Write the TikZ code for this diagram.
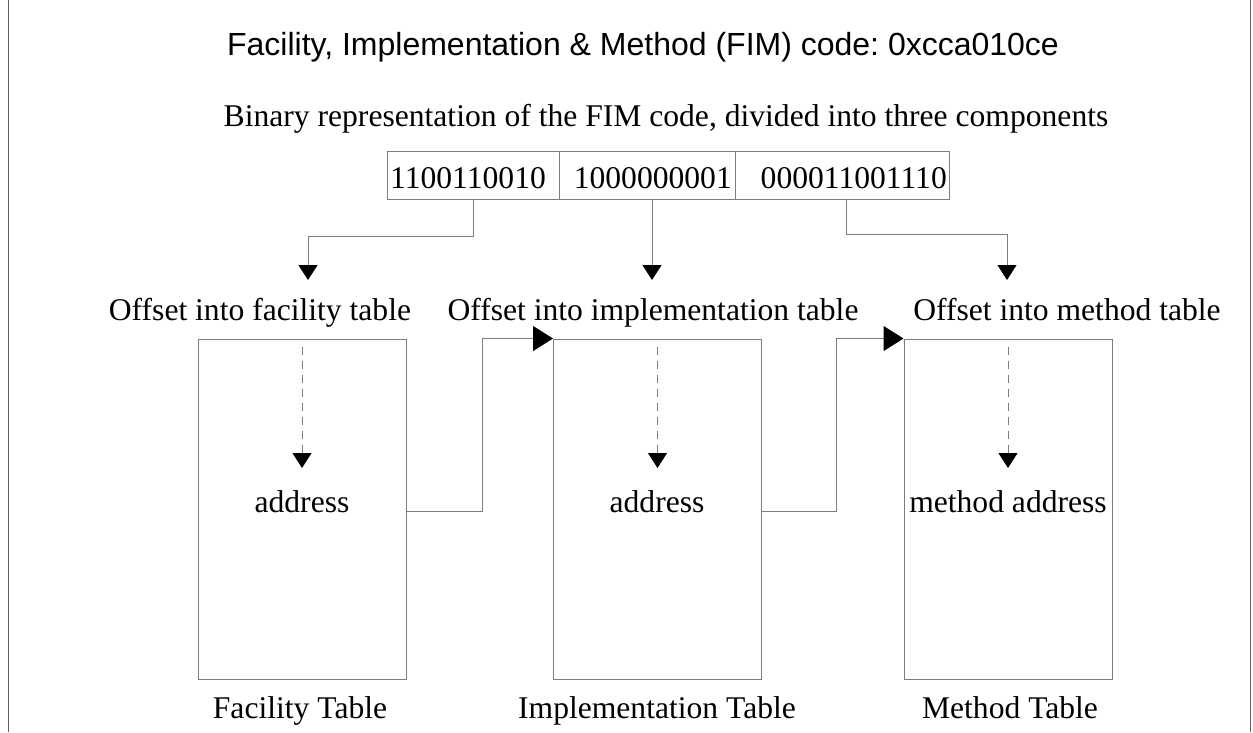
\documentclass[tikz,border=0pt]{standalone}
\usepackage{fontspec}
\setmainfont{Liberation Serif}
\newfontfamily\titlefont{Liberation Sans}
\usetikzlibrary{arrows.meta}
\definecolor{linegray}{RGB}{125,125,125}
\definecolor{framegray}{RGB}{95,95,95}
\frenchspacing
\begin{document}
\frenchspacing
\begin{tikzpicture}[x=1pt,y=-1pt,
  lbl/.style={font=\fontsize{31.6}{36}\selectfont, inner sep=0pt},
  cell/.style={draw=linegray, line width=1pt, inner sep=0pt, minimum height=48pt},
  tbl/.style={draw=linegray, line width=1pt, inner sep=0pt, minimum width=208pt, minimum height=340pt},
  arr/.style={draw=linegray, line width=1pt, -{Triangle[length=15pt,width=19pt,color=black]}},
  darr/.style={draw=linegray, line width=1pt, dash pattern=on 8pt off 6pt, -{Triangle[length=15pt,width=19pt,color=black]}},
  bigarr/.style={draw=linegray, line width=1pt, -{Triangle[length=20pt,width=25pt,color=black]}},
  frame/.style={draw=framegray, line width=1pt}]
\useasboundingbox (0,0) rectangle (1253,732);
\draw[frame] (8,0) -- (8,732);
\draw[frame] (1250,0) -- (1250,732);

\node[anchor=base, inner sep=0pt, font=\titlefont\fontsize{32}{38}\selectfont] (title) at (643,55) {Facility, Implementation \& Method (FIM) code: 0xcca010ce};
\node[lbl, anchor=base] (binlbl) at (666,126) {Binary representation of the FIM code, divided into three components};

\node[cell, minimum width=172pt] (b1) at (473,175) {};
\node[cell, minimum width=176pt] (b2) at (647,175) {};
\node[cell, minimum width=214pt] (b3) at (842,175) {};
\node[lbl, anchor=base west] (d1) at (390,188) {1100110010};
\node[lbl, anchor=base east] (d2) at (732,188) {1000000001};
\node[lbl, anchor=base east] (d3) at (947,188) {000011001110};

\node[lbl, anchor=base] (of) at (260,320) {Offset into facility table};
\node[lbl, anchor=base] (oi) at (653,320) {Offset into implementation table};
\node[lbl, anchor=base] (om) at (1067,320) {Offset into method table};

\coordinate (t1) at (308,280);
\coordinate (t2) at (652,280);
\coordinate (t3) at (1007,280);
\draw[arr] (b1.south) -- (b1.south |- 0,236) -| (t1);
\draw[arr] (t2 |- b2.south) -- (t2);
\draw[arr] ([xshift=4pt]b3.south) -- ([xshift=4pt]b3.south |- 0,234) -| (t3);

\node[tbl] (ft) at (302,509) {};
\node[tbl] (it) at (657.5,509) {};
\node[tbl] (mt) at (1008,509) {};

\draw[darr] ([yshift=-8pt]ft.north) -- (ft.north |- 0,468);
\draw[darr] ([yshift=-8pt]it.north) -- (it.north |- 0,468);
\draw[darr] ([yshift=-8pt]mt.north) -- (mt.north |- 0,468);

\node[lbl, anchor=base] (fa) at (302,512) {address};
\node[lbl, anchor=base] (ia) at (657,512) {address};
\node[lbl, anchor=base] (ma) at (1008,512) {method address};

\coordinate (k1) at (482,511);
\coordinate (k2) at (836,511);
\draw[bigarr] (ft.east |- k1) -- (k1) |- (it.north west);
\draw[bigarr] (it.east |- k2) -- (k2) |- (mt.north west);

\node[lbl, anchor=base] (ftl) at (300,718) {Facility Table};
\node[lbl, anchor=base] (itl) at (657,718) {Implementation Table};
\node[lbl, anchor=base] (mtl) at (1010,718) {Method Table};
\end{tikzpicture}
\end{document}
